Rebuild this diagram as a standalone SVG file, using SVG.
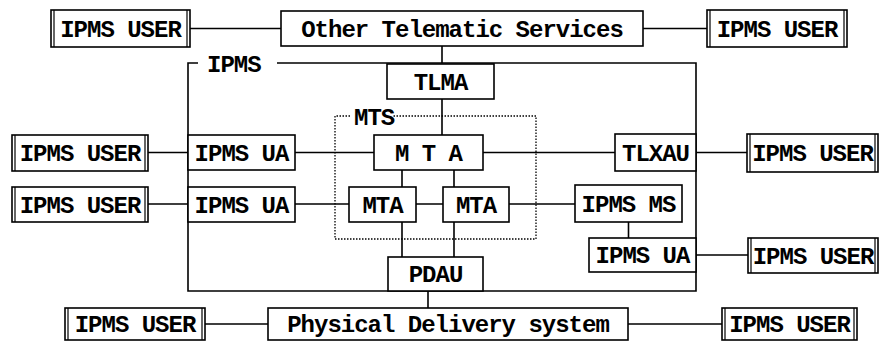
<svg xmlns="http://www.w3.org/2000/svg" width="882" height="343" viewBox="0 0 882 343">
<style>
.b{fill:#fff;stroke:#000;stroke-width:1.6}
.t{font-family:"Liberation Mono",monospace;font-weight:bold;font-size:24px;letter-spacing:-1px;text-anchor:middle;fill:#000}
.s{text-anchor:start}
.c{stroke:#000;stroke-width:1.6;fill:none}
.d{stroke:#000;stroke-width:1.3;stroke-dasharray:1.5 1.5;fill:none}
.i{stroke:#000;stroke-width:1.2}
</style>
<rect width="882" height="343" fill="#fff"/>
<g id="connectors">
<path class="c" d="M190 28.5H281M643 28.5H707M442 46V63M442 99V135M148 152.5H188M295 152.5H374M483 152.5H615M696 152.5H747M148 204H188M295 204H349M416 204H443M509 204H575M402 170V187M402 222V257M454 170V187M454 222V257M628.5 222V238M696 255H748M428 291V308M205 324H268M628 324H722"/>
</g>
<g id="ipms">
<path class="c" d="M198 63H188V291H696V63H277"/>
<text class="t s" x="207" y="72">IPMS</text>
</g>
<g id="mts">
<path class="d" d="M350 116H335V239H536V116H392"/>
<text class="t s" x="354" y="125">MTS</text>
</g>
<g id="user-top-left"><rect class="b" x="51" y="10" width="139" height="37"/><path class="i" d="M54 10V47M187 10V47"/><text class="t" x="120.5" y="37">IPMS USER</text></g>
<g id="other-telematic"><rect class="b" x="281" y="11" width="362" height="35"/><text class="t" x="462" y="36.5">Other Telematic Services</text></g>
<g id="user-top-right"><rect class="b" x="707" y="10" width="140" height="37"/><path class="i" d="M710 10V47M844 10V47"/><text class="t" x="777" y="37">IPMS USER</text></g>
<g id="tlma"><rect class="b" x="387" y="64" width="107" height="35"/><text class="t" x="440.5" y="89.5">TLMA</text></g>
<g id="mta-top"><rect class="b" x="374" y="135" width="109" height="35"/><text class="t" x="428.5" y="160.5">M T A</text></g>
<g id="mta-left"><rect class="b" x="349" y="187" width="67" height="35"/><text class="t" x="382.5" y="212.5">MTA</text></g>
<g id="mta-right"><rect class="b" x="443" y="187" width="66" height="35"/><text class="t" x="476" y="212.5">MTA</text></g>
<g id="pdau"><rect class="b" x="388" y="257" width="95" height="34"/><text class="t" x="435.5" y="282">PDAU</text></g>
<g id="ua-left-1"><rect class="b" x="188" y="135" width="107" height="35"/><text class="t" x="241.5" y="160.5">IPMS UA</text></g>
<g id="ua-left-2"><rect class="b" x="188" y="187" width="107" height="35"/><text class="t" x="241.5" y="212.5">IPMS UA</text></g>
<g id="user-left-1"><rect class="b" x="12" y="135" width="136" height="36"/><path class="i" d="M15 135V171M145 135V171"/><text class="t" x="80" y="161">IPMS USER</text></g>
<g id="user-left-2"><rect class="b" x="12" y="187" width="136" height="35"/><path class="i" d="M15 187V222M145 187V222"/><text class="t" x="80" y="212.5">IPMS USER</text></g>
<g id="tlxau"><rect class="b" x="615" y="134" width="81" height="37"/><text class="t" x="655.5" y="160.5">TLXAU</text></g>
<g id="user-right-1"><rect class="b" x="747" y="134" width="131" height="38"/><path class="i" d="M750 134V172M875 134V172"/><text class="t" x="812.5" y="161">IPMS USER</text></g>
<g id="ipms-ms"><rect class="b" x="575" y="185" width="107" height="37"/><text class="t" x="628.5" y="211.5">IPMS MS</text></g>
<g id="ua-right"><rect class="b" x="589" y="238" width="107" height="34"/><text class="t" x="642.5" y="263">IPMS UA</text></g>
<g id="user-right-2"><rect class="b" x="748" y="238" width="130" height="35"/><path class="i" d="M751 238V273M875 238V273"/><text class="t" x="813" y="263.5">IPMS USER</text></g>
<g id="physical-delivery"><rect class="b" x="268" y="308" width="360" height="32"/><text class="t" x="448" y="332">Physical Delivery system</text></g>
<g id="user-bottom-left"><rect class="b" x="65" y="308" width="140" height="32"/><path class="i" d="M68 308V340M202 308V340"/><text class="t" x="135" y="332">IPMS USER</text></g>
<g id="user-bottom-right"><rect class="b" x="722" y="308" width="135" height="32"/><path class="i" d="M725 308V340M854 308V340"/><text class="t" x="789.5" y="332">IPMS USER</text></g>
</svg>
